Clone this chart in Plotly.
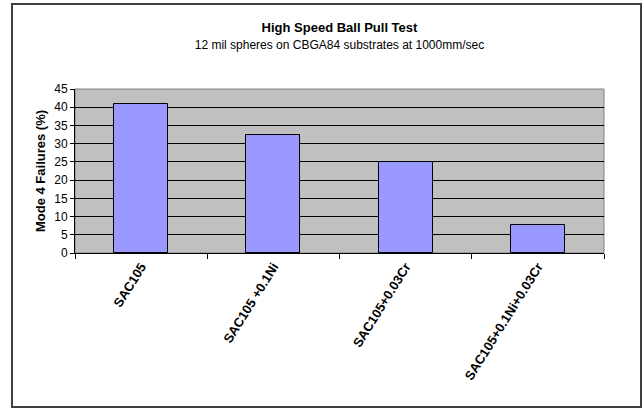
import plotly.graph_objects as go

categories = ["SAC105", "SAC105 +0.1Ni", "SAC105+0.03Cr", "SAC105+0.1Ni+0.03Cr"]
failures = [41.0, 32.3, 25.0, 7.6]
y_ticks = [0, 5, 10, 15, 20, 25, 30, 35, 40, 45]

W, H = 644, 409
ML, MR, MT, MB = 75, 40, 89, 156
pw, ph = W - ML - MR, H - MT - MB

FONT = "Liberation Sans, Arial, sans-serif"

fig = go.Figure(go.Bar(
    x=categories, y=failures,
    marker=dict(color="#9999FF", line=dict(color="black", width=1)),
    width=0.41,
))

fig.update_layout(
    width=W, height=H,
    margin=dict(l=ML, r=MR, t=MT, b=MB),
    paper_bgcolor="white", plot_bgcolor="#C0C0C0",
    font=dict(family=FONT, color="black"),
    showlegend=False,
    title=dict(
        text="<b>High Speed Ball Pull Test</b><br><span style='font-size:12px'>12 mil spheres on CBGA84 substrates at 1000mm/sec</span>",
        x=0.5, xref="paper", y=1 - 32 / H, yanchor="top", xanchor="center",
        font=dict(size=13, family=FONT),
    ),
    bargap=0,
)

fig.update_yaxes(
    range=[0, 45], tickvals=y_ticks, showgrid=True, gridcolor="black", gridwidth=1,
    showline=True, linecolor="black", linewidth=1, ticks="outside", ticklen=4,
    tickcolor="black", tickfont=dict(size=12, family=FONT),
    title=dict(text="<b>Mode 4 Failures (%)</b>", font=dict(size=13, family=FONT), standoff=5),
    zeroline=False, mirror=False,
)
fig.update_xaxes(
    showline=True, linecolor="black", linewidth=1, ticks="outside", ticklen=5,
    tickcolor="black", tickson="boundaries", tickangle=-58,
    tickfont=dict(size=13, family=FONT),
    ticktext=[f"<b>{c}</b>" for c in categories], tickvals=categories,
)

# outer chart border and plot-area edge
fig.add_shape(type="rect", xref="paper", yref="paper",
              x0=(12 - ML) / pw, x1=(641 - ML) / pw,
              y0=-(407 - MT - ph) / ph, y1=1 + (MT - 4) / ph,
              line=dict(color="#404040", width=2))
fig.add_shape(type="rect", xref="paper", yref="paper", x0=0, x1=1, y0=0, y1=1,
              line=dict(color="#808080", width=1), layer="below")

fig.write_html("out.html", config={"displayModeBar": False},
               post_script="document.body.style.margin='0';")
